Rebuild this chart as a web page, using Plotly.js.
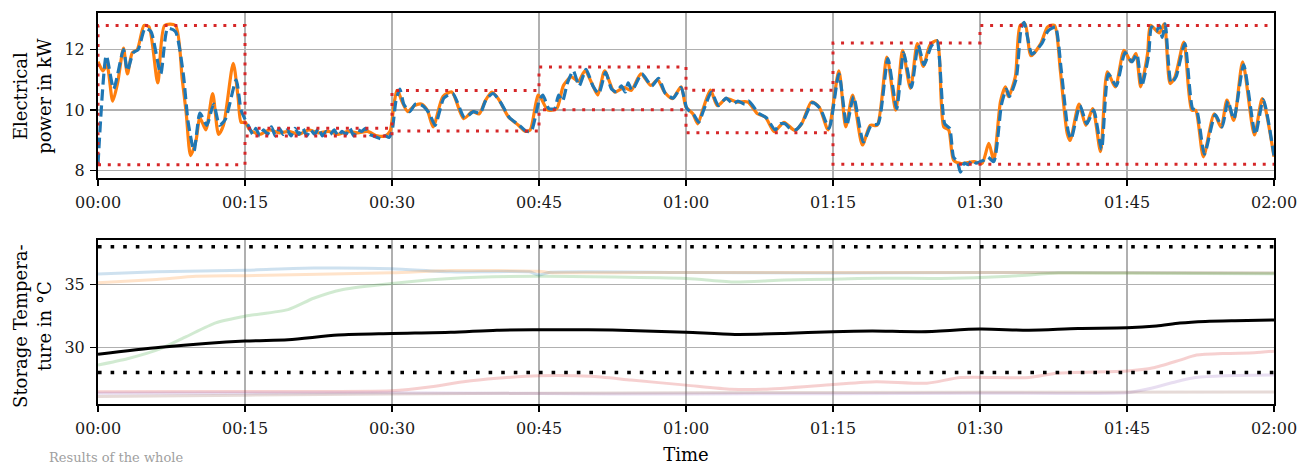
<!DOCTYPE html>
<html>
<head>
<meta charset="utf-8">
<script src="https://cdn.plot.ly/plotly-3.0.1.min.js"></script>
<style>html,body{margin:0;padding:0;background:#fff;}#chart{width:1309px;height:465px;}</style>
</head>
<body>
<div id="chart"></div>
<script>
// ---- Data (minutes since 00:00) ----
const tickVals = [0, 15, 30, 45, 60, 75, 90, 105, 120];
const tickLabels = ["00:00","00:15","00:30","00:45","01:00","01:15","01:30","01:45","02:00"];

// Reference (set-point) electrical power, kW
const refT = [0,0.5,0.9,1.5,2.0,2.6,3.0,3.5,4.0,4.7,5.2,6.1,6.8,7.9,8.6,9.0,9.45,10.0,10.4,11.0,11.7,12.3,12.8,13.8,14.3,14.6,15.0,
  15.5,16.5,17.5,18.5,19.5,20.5,21.5,22.5,23.5,24.5,25.5,26.5,27.5,28.5,29.3,29.8,30.2,30.5,
  30.6,31.0,31.6,32.3,33.0,33.6,34.2,35.2,36.1,37.3,38.2,38.9,39.5,40.2,40.9,41.9,42.9,43.6,44.1,44.9,45.2,45.9,46.8,47.5,48.3,49.0,49.7,50.4,51.0,51.7,52.7,53.7,54.4,55.4,56.4,57.1,57.8,58.6,59.5,60.0,60.7,61.2,61.7,62.5,63.2,64.1,65.2,66.3,67.3,68.1,69.0,70.0,71.1,71.8,72.8,73.6,74.5,75.6,76.3,77.0,78.0,78.8,79.5,80.5,81.4,82.1,82.9,83.6,84.2,84.9,85.6,86.3,86.8,87.3,88.0,89.4,90.2,90.9,91.4,92.1,92.6,92.9,93.6,94.1,94.6,95.2,96.2,96.9,97.6,98.2,98.9,99.2,100.1,100.8,101.5,102.3,103.0,103.8,104.7,105.4,105.9,106.4,107.1,107.4,108.3,108.8,109.4,109.9,110.8,111.6,112.0,112.8,113.9,114.6,115.2,115.9,116.8,118.0,118.8,120];
const refP = [11.6,11.3,11.5,10.3,10.9,12.05,11.2,11.9,12.0,12.8,12.75,10.9,12.8,12.8,11.0,9.9,8.5,9.0,9.75,9.35,10.55,9.2,9.5,11.55,10.4,9.6,9.6,
  9.35,9.2,9.35,9.25,9.3,9.2,9.35,9.25,9.3,9.2,9.3,9.25,9.3,9.15,9.15,9.3,10.2,10.65,
  10.65,10.3,9.95,10.15,10.2,10.0,9.45,10.45,10.6,9.72,9.95,9.88,10.3,10.6,10.35,9.77,9.5,9.3,9.35,10.5,10.4,10.0,10.05,10.82,11.1,10.95,11.3,10.88,10.5,11.3,10.6,10.75,10.65,11.2,10.82,11.0,10.6,10.38,10.77,10.1,9.88,9.55,10.0,10.66,10.15,10.38,10.27,10.27,9.88,9.77,9.29,9.6,9.33,9.55,10.27,10.1,9.35,11.3,9.45,10.5,8.85,9.5,9.5,11.75,10.0,11.98,10.72,12.2,11.45,12.15,12.3,9.45,9.35,8.35,8.24,8.3,8.24,8.9,8.35,10.3,10.77,10.45,11.1,12.8,12.85,11.8,12.2,12.75,12.8,11.3,9.23,9.0,10.2,9.5,10.05,8.63,11.27,10.77,11.98,11.6,11.87,10.77,11.87,12.8,12.55,12.85,10.88,11.1,12.25,10.0,10.0,8.46,9.88,9.44,10.33,9.66,11.6,9.18,10.38,8.46];

// Measured electrical power, kW
const measT = [0,0.85,1.6,2.6,3.0,3.6,4.1,4.8,5.4,6.4,7.1,7.9,8.7,9.2,9.8,10.4,11.1,11.8,12.4,13.0,14.1,14.6,15.0,
  15.4,15.8,16.1,16.5,16.9,17.3,17.7,18.1,18.5,18.9,19.3,19.7,20.1,20.5,20.9,21.3,21.7,22.1,22.5,22.9,23.3,23.7,24.1,24.5,24.9,25.3,25.7,26.1,26.5,26.9,27.3,27.7,28.1,28.5,28.9,29.3,29.7,30.0,30.4,30.8,
  31.2,31.8,32.4,33.1,33.8,34.4,35.3,36.2,37.4,38.3,39.0,39.6,40.3,41.0,42.0,43.0,43.7,44.2,45.0,45.4,46.0,46.6,47.0,47.4,47.9,48.5,49.1,49.8,50.5,51.1,51.8,52.4,52.9,53.4,53.8,54.1,54.5,55.5,56.5,57.2,57.9,58.7,59.5,60.1,60.8,61.3,61.8,62.6,63.3,64.1,64.8,65.3,66.0,66.4,67.4,68.2,69.1,69.6,70.1,70.6,71.2,71.9,72.9,73.7,74.6,75.6,76.4,77.1,78.1,78.9,79.6,80.6,81.5,82.2,83.0,83.7,84.3,85.0,85.6,86.4,86.9,87.3,87.7,88.0,88.4,88.8,89.2,89.6,90.0,90.4,90.8,91.4,92.2,92.7,93.0,93.7,94.2,94.5,95.3,96.3,96.9,97.3,97.7,98.3,99.0,99.3,100.2,100.9,101.6,102.4,103.1,103.9,104.8,105.5,106.0,106.5,107.2,107.5,108.0,108.3,108.6,108.9,109.5,110.0,110.9,111.7,112.1,112.9,114.0,114.7,115.3,115.9,116.9,118.1,118.9,120];
const measP = [8.2,11.8,10.7,12.0,11.3,11.9,12.0,12.7,12.6,11.2,12.7,12.6,11.2,9.6,8.65,9.9,9.5,10.2,9.5,9.7,11.0,10.0,9.7,
  9.45,9.2,9.4,9.15,9.35,9.2,9.45,9.15,9.4,9.2,9.35,9.15,9.4,9.2,9.4,9.15,9.35,9.2,9.4,9.15,9.3,9.2,9.35,9.15,9.3,9.2,9.4,9.15,9.35,9.3,9.4,9.2,9.15,9.1,9.05,9.15,9.1,9.3,10.3,10.7,
  10.2,9.95,10.2,10.15,9.9,9.5,10.4,10.55,9.75,9.95,9.9,10.35,10.55,10.3,9.75,9.5,9.3,9.3,10.3,10.5,10.05,10.05,10.5,10.3,10.9,11.3,10.8,11.35,10.8,10.55,11.25,10.7,10.6,10.8,10.6,10.9,10.65,11.2,10.8,11.05,10.55,10.4,10.75,10.05,9.85,9.6,10.0,10.6,10.15,10.4,10.2,10.3,10.2,10.3,9.9,9.75,9.35,9.55,9.55,9.4,9.35,9.6,10.25,10.05,9.4,11.2,9.5,10.45,8.95,9.5,9.55,11.7,10.05,11.9,10.75,12.15,11.5,12.1,12.3,9.55,9.4,8.45,8.3,7.95,8.25,8.2,8.35,8.25,8.3,8.35,8.45,8.3,10.2,10.7,10.45,11.05,12.7,12.9,11.85,12.2,12.6,12.7,12.75,11.3,9.3,9.05,10.15,9.55,10.0,8.7,11.2,10.8,11.9,11.6,11.85,10.8,11.8,12.75,12.6,12.8,12.4,12.85,10.9,11.1,12.2,10.05,10.0,8.55,9.85,9.45,10.3,9.7,11.5,9.2,10.35,8.5];

// Flexibility bounds (per 15-min block), kW
const boundT     = [0, 15, 30, 45, 60, 75, 90, 105, 120];
const upperBound = [12.8, 9.4, 10.65, 11.43, 10.66, 12.22, 12.8, 12.8, 12.8];
const lowerBound = [8.2, 9.15, 9.31, 10.01, 9.25, 8.21, 8.21, 8.21, 8.21];

// Storage temperatures, °C
const tempLimits = [28, 38];
const avgT = [0,6.4,15,19.4,24.5,30,36,40.7,45,50,55,60,65,70,75,79,84,90,95,100,105,108,110.4,113,116,120];
const avgV = [29.45,30.0,30.5,30.6,30.98,31.1,31.2,31.37,31.4,31.4,31.33,31.2,31.03,31.1,31.25,31.3,31.25,31.45,31.37,31.5,31.55,31.7,31.93,32.06,32.12,32.17];

const st1T = [0,6,15,22,30,36,44,45,46,60,75,90,105,120];
const st1V = [35.82,36.0,36.13,36.3,36.25,36.0,36.0,35.75,35.95,35.95,35.9,35.95,35.95,35.9];
const st2T = [0,6,10,15,30,36,45,46,60,75,90,105,120];
const st2V = [35.13,35.4,35.65,35.7,35.92,36.1,36.05,35.95,35.95,35.95,35.95,35.92,35.9];
const st3T = [0,3,6.4,9,12,15,19.4,22,25,30,36,45,60,65,70,75,80,86,93,98,105,120];
const st3V = [28.6,29.1,29.9,30.85,31.95,32.48,33.0,33.9,34.6,35.08,35.48,35.65,35.48,35.2,35.35,35.42,35.5,35.48,35.65,35.9,35.88,35.85];
const st4T = [0,15,30,34,37.3,40.7,45,50.3,54.4,60,64.6,68,75,79.4,84.6,88,95,97.8,105,107.7,110.4,112.1,115.1,118,120];
const st4V = [26.48,26.5,26.55,26.87,27.27,27.54,27.75,27.7,27.4,27.0,26.67,26.67,27.05,27.27,27.15,27.6,27.6,27.94,28.12,28.38,28.99,29.39,29.52,29.57,29.7];
const st5T = [0,30,52,60,90,105,107,110,112,115,120];
const st5V = [26.35,26.4,26.3,26.3,26.35,26.4,26.67,27.27,27.6,27.75,27.8];
const st6T = [0,15,30,60,90,120];
const st6V = [26.1,26.2,26.3,26.4,26.43,26.45];

// ---- Plot ----
const FONT = "DejaVu Serif";
const fadedColors = ["#1f77b4","#ff7f0e","#2ca02c","#d62728","#9467bd","#8c564b"];
const storT = [st1T, st2T, st3T, st4T, st5T, st6T];
const storV = [st1V, st2V, st3V, st4V, st5V, st6V];

const traces = [];
storT.forEach((t, i) => {
  traces.push({x: t, y: storV[i], xaxis: "x2", yaxis: "y2", mode: "lines",
    line: {color: fadedColors[i], width: 3, shape: "spline", smoothing: 0.6}, opacity: 0.22,
    showlegend: false, hoverinfo: "skip"});
});
tempLimits.forEach(v => {
  traces.push({x: [0, 120], y: [v, v], xaxis: "x2", yaxis: "y2", mode: "lines",
    line: {color: "#000", width: 3.6, dash: "3.6px,9px"}, showlegend: false});
});
traces.push({x: avgT, y: avgV, xaxis: "x2", yaxis: "y2", mode: "lines",
  line: {color: "#000", width: 3, shape: "spline", smoothing: 0.8}, showlegend: false});

traces.push({x: refT, y: refP, xaxis: "x", yaxis: "y", mode: "lines",
  line: {color: "#ff7f0e", width: 3.2, shape: "spline", smoothing: 0.7}, showlegend: false});
traces.push({x: measT, y: measP, xaxis: "x", yaxis: "y", mode: "lines",
  line: {color: "#1f77b4", width: 3.2, dash: "11px,5px", shape: "spline", smoothing: 0.6}, showlegend: false});
traces.push({x: [0].concat(boundT), y: [lowerBound[0]].concat(upperBound), xaxis: "x", yaxis: "y", mode: "lines",
  line: {color: "#d62728", width: 3, dash: "3px,6.8px", shape: "hv"}, showlegend: false});
traces.push({x: boundT, y: lowerBound, xaxis: "x", yaxis: "y", mode: "lines",
  line: {color: "#d62728", width: 3, dash: "3px,6.8px", shape: "hv"}, showlegend: false});

const axisCommon = {
  range: [0, 120], tickvals: tickVals, ticktext: tickLabels,
  showline: true, linecolor: "#000", linewidth: 2, mirror: true,
  ticks: "outside", ticklen: 6, tickwidth: 1.5, tickcolor: "#000",
  showgrid: true, gridcolor: "#b0b0b0", gridwidth: 1.5, zeroline: false,
  tickfont: {family: FONT, size: 16, color: "#1a1a1a"}
};

const layout = {
  width: 1309, height: 465,
  margin: {l: 97.5, r: 34.5, t: 12.5, b: 61},
  paper_bgcolor: "#fff", plot_bgcolor: "#fff",
  font: {family: FONT, size: 16, color: "#000"},
  showlegend: false,
  xaxis: Object.assign({}, axisCommon, {anchor: "y", domain: [0, 1], ticklabelstandoff: 3}),
  yaxis: Object.assign({}, axisCommon, {anchor: "x", domain: [0.5773, 1], range: [7.75, 13.21],
    tickvals: [8, 10, 12], ticktext: ["8", "10", "12"], ticklabelstandoff: 2}),
  xaxis2: Object.assign({}, axisCommon, {anchor: "y2", domain: [0, 1], ticklabelstandoff: 3,
    title: {text: "Time", font: {family: FONT, size: 18, color: "#000"}, standoff: 12}}),
  yaxis2: Object.assign({}, axisCommon, {anchor: "x2", domain: [0, 0.4207], range: [25.5, 38.57],
    tickvals: [30, 35], ticktext: ["30", "35"], ticklabelstandoff: 2}),
  annotations: [
    {text: "Electrical<br>power in kW", xref: "paper", yref: "paper", x: -0.056, y: 0.7886,
     xanchor: "center", yanchor: "middle", textangle: -90, showarrow: false,
     font: {family: FONT, size: 18, color: "#000"}},
    {text: "Storage Tempera-<br>ture in °C", xref: "paper", yref: "paper", x: -0.056, y: 0.2,
     xanchor: "center", yanchor: "middle", textangle: -90, showarrow: false,
     font: {family: FONT, size: 18, color: "#000"}},
    {text: "Results of the whole", xref: "paper", yref: "paper", x: -0.043, y: -0.112,
     xanchor: "left", yanchor: "top", showarrow: false,
     font: {family: FONT, size: 13, color: "#a0a0a0"}}
  ]
};

Plotly.newPlot("chart", traces, layout, {staticPlot: true, displayModeBar: false});
</script>
</body>
</html>
